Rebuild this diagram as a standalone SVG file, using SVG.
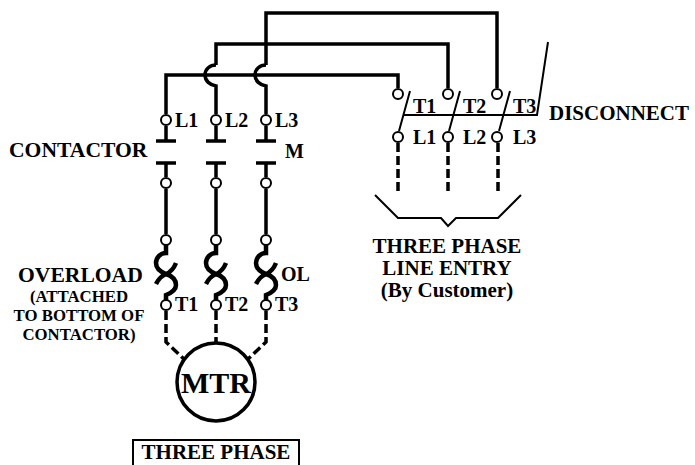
<svg xmlns="http://www.w3.org/2000/svg" width="695" height="465" viewBox="0 0 695 465">
<style>
.w{fill:none;stroke:#000;stroke-width:3.5}
.t{fill:none;stroke:#000;stroke-width:2}
.d{fill:none;stroke:#000;stroke-width:3.5;stroke-dasharray:9 4}
.o{fill:none;stroke:#000;stroke-width:4.5}
.c{fill:#fff;stroke:#000;stroke-width:2}
text{font-family:"Liberation Serif","Times New Roman",serif;font-weight:bold;fill:#000;font-size:20px}
.b{font-size:21px}
.l{font-size:21.6px}
.s{font-size:16.8px}
.m{text-anchor:middle}
</style>
<rect width="695" height="465" fill="#fff"/>
<defs>
<g id="oc"><path class="o" d="M0 245V253C-6 253 -10 258 -10 263C-10 269 -5 272 0 274C6 276 10 280 10 285C10 290 5 293 0 295V300M10 263C8 268 5 272 0 274C-5 276 -8 280 -10 284"/></g>
</defs>
<g id="connectors">
<path class="w" d="M266 65V13H497V88M216 65V44H448V88M166 114V75H398V88"/>
<path class="w" d="M216 65C210 65 205 69 205 75C205 81 210 85 216 86V114M266 65C260 65 255 69 255 75C255 81 260 85 266 86V114"/>
<path class="w" d="M166 126V141M216 126V141M266 126V141M166 163V177M216 163V177M266 163V177M166 189V234M216 189V234M266 189V234"/>
<path class="w" d="M156 141H176M206 141H226M256 141H276M156 163H176M206 163H226M256 163H276"/>
<path class="d" d="M166 311V342L185 360M216 311V342M266 311V342L247 360"/>
<path class="t" d="M410 91L399 131M460 91L449 131M510 91L499 131M404 115H537L548 42"/>
<path class="d" d="M398 143V194M448 143V194M498 143V194"/>
<path class="t" d="M375 195L398 218H441L448 226L456 218H498L521 195"/>
</g>
<g id="overload-1"><use href="#oc" x="166"/><circle class="c" cx="166" cy="240" r="5"/><circle class="c" cx="166" cy="305" r="5"/></g>
<g id="overload-2"><use href="#oc" x="216"/><circle class="c" cx="216" cy="240" r="5"/><circle class="c" cx="216" cy="305" r="5"/></g>
<g id="overload-3"><use href="#oc" x="266"/><circle class="c" cx="266" cy="240" r="5"/><circle class="c" cx="266" cy="305" r="5"/></g>
<g id="contactor">
<circle class="c" cx="166" cy="120" r="5"/><circle class="c" cx="216" cy="120" r="5"/><circle class="c" cx="266" cy="120" r="5"/>
<circle class="c" cx="166" cy="183" r="5"/><circle class="c" cx="216" cy="183" r="5"/><circle class="c" cx="266" cy="183" r="5"/>
</g>
<g id="disconnect">
<circle class="c" cx="398" cy="94" r="5"/><circle class="c" cx="448" cy="94" r="5"/><circle class="c" cx="497" cy="94" r="5"/>
<circle class="c" cx="398" cy="137" r="5"/><circle class="c" cx="448" cy="137" r="5"/><circle class="c" cx="497" cy="137" r="5"/>
</g>
<g id="motor"><circle cx="216" cy="382" r="39" fill="#fff" stroke="#000" stroke-width="3.5"/><text x="216" y="393" class="m" style="font-size:30px">MTR</text></g>
<g id="labels">
<text x="175" y="127">L1</text><text x="225" y="127">L2</text><text x="275" y="127">L3</text>
<text class="l" x="9" y="157">CONTACTOR</text><text x="285" y="158">M</text>
<text x="413" y="113">T1</text><text x="463" y="113">T2</text><text x="513" y="113">T3</text>
<text x="413" y="144">L1</text><text x="463" y="144">L2</text><text x="513" y="144">L3</text>
<text class="b" x="549" y="120">DISCONNECT</text>
<text class="b m" x="447" y="253">THREE PHASE</text><text class="b m" x="447" y="275">LINE ENTRY</text><text class="b m" x="447" y="297">(By Customer)</text>
<text class="l" x="18" y="282">OVERLOAD</text>
<text x="79" y="302" class="m s">(ATTACHED</text><text x="79" y="321" class="m s">TO BOTTOM OF</text><text x="79" y="340" class="m s">CONTACTOR)</text>
<text x="281" y="281">OL</text>
<text x="175" y="311">T1</text><text x="225" y="311">T2</text><text x="275" y="311">T3</text>
</g>
<g id="caption"><path d="M133 465V440H299V465" fill="none" stroke="#000" stroke-width="2"/><text class="b m" x="216" y="459">THREE PHASE</text></g>
</svg>
